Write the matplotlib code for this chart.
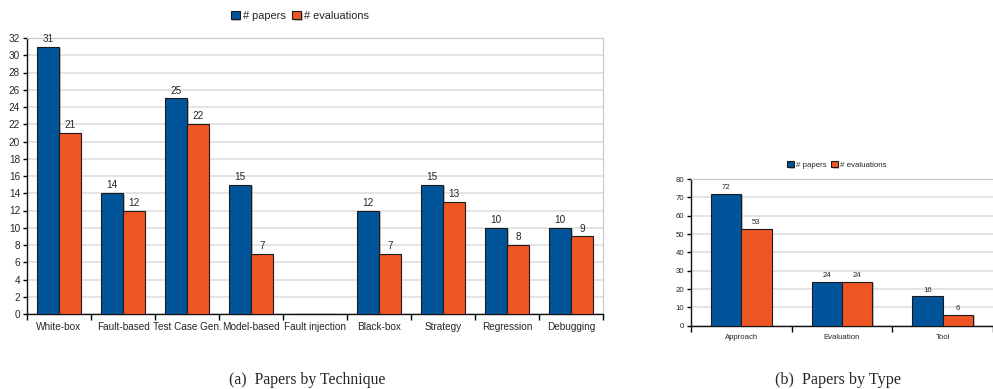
import matplotlib
matplotlib.use("Agg")
import matplotlib.pyplot as plt
import matplotlib.patheffects as pe
import numpy as np

# Papers by technique
techniques = ["White-box", "Fault-based", "Test Case Gen.", "Model-based",
              "Fault injection", "Black-box", "Strategy", "Regression", "Debugging"]
tech_papers = [31, 14, 25, 15, 0, 12, 15, 10, 10]
tech_evals = [21, 12, 22, 7, 0, 7, 13, 8, 9]

# Papers by type
types = ["Approach", "Evaluation", "Tool"]
type_papers = [72, 24, 16]
type_evals = [53, 24, 6]

series_names = ["# papers", "# evaluations"]
BLUE = "#02549a"
ORANGE = "#f05524"
GRID = "#dcdcdc"
TEXT = "#262626"

plt.rcParams["font.family"] = ["Liberation Sans", "DejaVu Sans"]
plt.rcParams["text.color"] = TEXT
plt.rcParams["xtick.labelcolor"] = TEXT
plt.rcParams["ytick.labelcolor"] = TEXT

fig = plt.figure(figsize=(9.93, 3.89), dpi=100)


def grouped(ax, cats, a, b, width, ymax, ystep, fs_tick, fs_val, legend_xy, legend_fs):
    x = np.arange(len(cats))
    shadow = [pe.SimplePatchShadow(offset=(1.2, -1.2), shadow_rgbFace="#999999", alpha=0.6),
              pe.Normal()]
    b1 = ax.bar(x - width / 2, a, width, color=BLUE, edgecolor="#1a1a1a", linewidth=0.8,
                label=series_names[0], zorder=3)
    b2 = ax.bar(x + width / 2, b, width, color=ORANGE, edgecolor="#1a1a1a", linewidth=0.8,
                label=series_names[1], zorder=3)
    for bars in (b1, b2):
        heights = [r.get_height() for r in bars]
        for r in bars:
            if r.get_height() > 0:
                r.set_path_effects(shadow)
        ax.bar_label(bars, labels=[f"{h:g}" if h > 0 else "" for h in heights],
                     padding=2, fontsize=fs_val, color=TEXT)
    ax.set_xlim(-0.5, len(cats) - 0.5)
    ax.set_ylim(0, ymax)
    ax.set_yticks(np.arange(0, ymax + 1, ystep))
    ax.yaxis.grid(True, color=GRID, linewidth=1.1, zorder=0)
    ax.set_axisbelow(True)
    ax.set_xticks(x)
    ax.set_xticklabels(cats, fontsize=fs_tick)
    ax.tick_params(axis="x", length=0, pad=6)
    ax.set_xticks(np.arange(-0.5, len(cats)), minor=True)
    ax.tick_params(axis="x", which="minor", length=4, width=1.0, direction="out")
    ax.tick_params(axis="y", labelsize=fs_tick, length=3, width=1.0, pad=2)
    for s in ("top", "right"):
        ax.spines[s].set_color("#c8c8c8")
    for s in ("left", "bottom"):
        ax.spines[s].set_color("#111111")
        ax.spines[s].set_linewidth(1.0)
    ax.legend(loc="center", bbox_to_anchor=legend_xy, ncol=2, frameon=False,
              fontsize=legend_fs, handlelength=0.8, handleheight=0.8,
              handletextpad=0.3, columnspacing=0.6, borderaxespad=0)
    return ax


ax1 = fig.add_axes([27 / 993, 75 / 389, 576 / 993, 276 / 389])
grouped(ax1, techniques, tech_papers, tech_evals, 0.34, 32, 2, 7.2, 7.2, (0.474, 1.08), 7.9)

ax2 = fig.add_axes([691 / 993, 63.3 / 389, 302 / 993, 146.7 / 389])
grouped(ax2, types, type_papers, type_evals, 0.30, 80, 10, 5.6, 5.6, (0.483, 1.095), 5.7)
ax2.spines["right"].set_visible(False)

fig.text(307 / 993, 1 - 380.5 / 389, "(a)  Papers by Technique", ha="center", va="center",
         fontsize=11.3, family=["Liberation Serif", "DejaVu Serif"])
fig.text(838 / 993, 1 - 380.5 / 389, "(b)  Papers by Type", ha="center", va="center",
         fontsize=11.6, family=["Liberation Serif", "DejaVu Serif"])

fig.savefig("out.png", dpi=100)
